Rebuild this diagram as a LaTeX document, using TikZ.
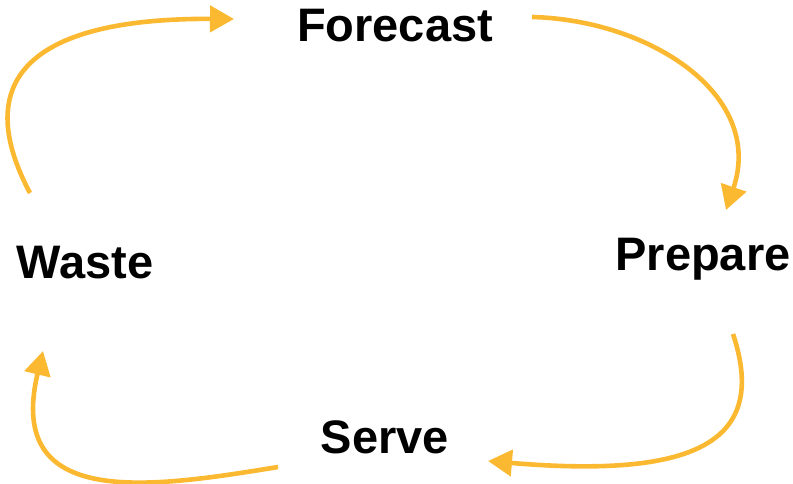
\documentclass[tikz,border=0pt]{standalone}
\usepackage{fontspec}
\setmainfont{Liberation Sans}
\usetikzlibrary{arrows.meta}
\definecolor{cycleamber}{HTML}{FBB932}
\tikzset{
  stage/.style={font=\fontsize{47}{50}\selectfont\bfseries, text=black, anchor=base, inner sep=0pt},
  cyclearrow/.style={draw=cycleamber, line width=4.6pt,
    -{Triangle[length=24pt, width=26pt, fill=cycleamber]}}
}
\begin{document}
\begin{tikzpicture}[x=1pt, y=-1pt]
  \useasboundingbox (0,0) rectangle (793,484);
  % stage labels
  \node[stage] (forecast) at (395,42) {Forecast};
  \node[stage] (prepare) at (703,270) {Prepare};
  \node[stage] (serve) at (385,453) {Serve};
  \node[stage] (waste) at (85,278) {Waste};
  % arrow ends
  \coordinate (w-out) at (30,193);
  \coordinate (f-in) at (234,19);
  \coordinate (f-out) at (532,17);
  \coordinate (p-in) at (726,210);
  \coordinate (p-out) at (733,334);
  \coordinate (s-in) at (488,461);
  \coordinate (s-out) at (278,467);
  \coordinate (w-in) at (43,351);
  % cycle arrows
  \draw[cyclearrow] (w-out) .. controls (-30,80) and (30,18) .. (f-in);
  \draw[cyclearrow] (f-out) .. controls (650,20) and (765,95) .. (p-in);
  \draw[cyclearrow] (p-out) .. controls (770,445) and (690,478) .. (s-in);
  \draw[cyclearrow] (s-out) .. controls (150,488) and (5,510) .. (w-in);
\end{tikzpicture}
\end{document}
